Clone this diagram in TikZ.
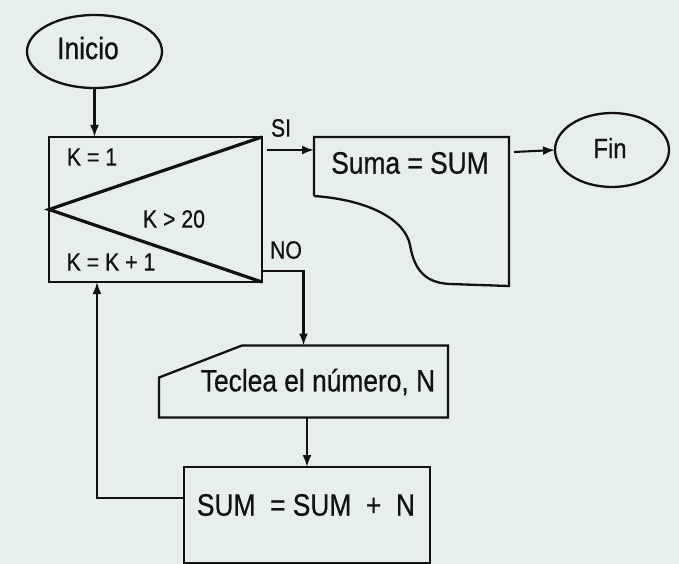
\documentclass[tikz,border=0pt]{standalone}
\usepackage{fontspec}
\setmainfont{Liberation Sans}[FakeStretch=0.85,FakeBold=0.6]
\usetikzlibrary{arrows.meta,shapes.geometric}
\definecolor{paper}{RGB}{230,239,238}
\definecolor{ink}{RGB}{18,18,18}
\tikzset{
  line/.style={draw=ink,line width=2.3pt},
  arr/.style={draw=ink,line width=2.1pt,-{Latex[length=12pt,width=9pt]}},
  big/.style={font=\fontsize{31}{36}\selectfont,text=ink,inner sep=0pt},
  mid/.style={font=\fontsize{28}{33}\selectfont,text=ink,inner sep=0pt},
  small/.style={font=\fontsize{25}{30}\selectfont,text=ink,inner sep=0pt},
  frame/.style={inner sep=0pt,outer sep=0pt}
}
\begin{document}
\begin{tikzpicture}[x=1pt,y=-1pt]
\fill[paper] (0,0) rectangle (679,564);
\useasboundingbox (0,0) rectangle (679,564);

% Inicio
\node[ellipse,line,minimum width=135pt,minimum height=73pt,frame] (inicio) at (94.5,51.5) {};
\node[big] (tinicio) at (88,48) {Inicio};

% loop box
\node[line,frame,minimum width=213pt,minimum height=145pt] (loop) at (155.5,209.5) {};
\draw[draw=ink,line width=3.2pt,line join=miter] (loop.north east) -- (loop.west) -- (loop.south east);
\node[small] (k1) at (92,157) {K = 1};
\node[small] (k20) at (174,219) {K > 20};
\node[small] (kk) at (111,262) {K = K + 1};

% Suma document shape
\node[frame,minimum width=195pt,minimum height=149pt] (suma) at (411.5,211.5) {};
\draw[line,line join=miter] (suma.south west |- 0,196) -- (suma.north west) -- (suma.north east) -- (suma.south east)
  -- (450,284) .. controls (430,283) and (415,275) .. (410,245)
  .. controls (405,220) and (370,200) .. (suma.south west |- 0,196);
\node[big] (tsuma) at (410,163) {Suma = SUM};

% Fin
\node[ellipse,line,minimum width=114pt,minimum height=74pt,frame] (fin) at (612,150) {};
\node[mid] (tfin) at (610,148) {Fin};

% Teclea (manual input)
\node[frame,minimum width=289pt,minimum height=72pt] (teclea) at (303.5,381.5) {};
\draw[line,line join=miter] ([shift={(83,0)}]teclea.north west) -- (teclea.north east) -- (teclea.south east)
  -- (teclea.south west) -- ([shift={(0,32)}]teclea.north west) -- cycle;
\node[big] (tteclea) at (318,382) {Teclea el número, N};

% SUM box
\node[line,frame,minimum width=246pt,minimum height=96pt] (sumbox) at (307,515) {};
\node[big] (tsum) at (306,505) {SUM\ \ = SUM\ \ +\ \ N};

% labels
\node[small] (si) at (281,128) {SI};
\node[small] (no) at (286,250) {NO};

% connectors
\draw[arr] (inicio) -- (inicio |- loop.north);
\draw[arr] ([shift={(5,13)}]loop.north east) -- ([shift={(0,13)}]suma.north west);
\draw[arr] ([shift={(5,15)}]suma.north east) -- (fin.west);
\draw[arr] ([shift={(0,-11)}]loop.south east) -| (teclea.north);
\draw[arr] (sumbox.north |- teclea.south) -- (sumbox.north);
\draw[arr] ([shift={(0,-17)}]sumbox.west) -| ([shift={(48,0)}]loop.south west);
\end{tikzpicture}
\end{document}
